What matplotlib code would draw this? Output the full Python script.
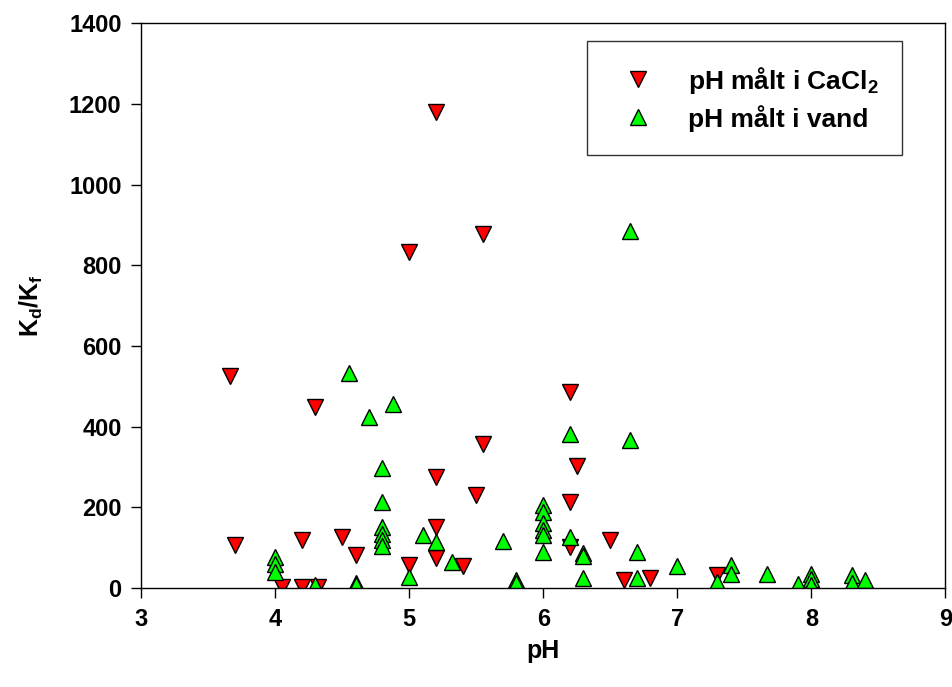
import matplotlib
matplotlib.use('Agg')
from matplotlib import pyplot as plt

plt.rcParams['font.family'] = ['Liberation Sans', 'DejaVu Sans']
plt.rcParams['font.weight'] = 'bold'
plt.rcParams['mathtext.fontset'] = 'custom'
plt.rcParams['mathtext.rm'] = 'Liberation Sans:bold'
plt.rcParams['mathtext.it'] = 'Liberation Sans:bold'
plt.rcParams['mathtext.bf'] = 'Liberation Sans:bold'

# pH measured in CaCl2
ph_cacl2 = [3.66, 3.70, 4.05, 4.20, 4.20, 4.30, 4.32, 4.50, 4.60, 5.00, 5.00, 5.20, 5.20, 5.20,
            5.20, 5.40, 5.50, 5.55, 5.55, 6.20, 6.20, 6.20, 6.25, 6.50, 6.60, 6.80, 7.30]
kd_cacl2 = [526, 106, 3, 119, 3, 448, 2, 126, 82, 832, 57, 1180, 276, 152,
            74, 55, 230, 877, 357, 486, 214, 102, 303, 119, 21, 26, 32]

# pH measured in water
ph_vand = [4.00, 4.00, 4.00, 4.30, 4.55, 4.60, 4.60, 4.70, 4.80, 4.80, 4.80, 4.80, 4.80, 4.80,
           4.88, 5.00, 5.10, 5.20, 5.32, 5.70, 5.80, 5.80, 6.00, 6.00, 6.00, 6.00, 6.00, 6.00,
           6.20, 6.20, 6.30, 6.30, 6.30, 6.65, 6.65, 6.70, 6.70, 7.00, 7.30, 7.40, 7.40, 7.67,
           7.90, 8.00, 8.00, 8.00, 8.30, 8.30, 8.40]
kd_vand = [78, 60, 40, 7, 534, 12, 8, 423, 298, 214, 152, 135, 119, 104,
           456, 28, 131, 115, 65, 117, 20, 13, 206, 189, 162, 145, 131, 90,
           383, 126, 86, 80, 24, 885, 367, 90, 24, 55, 15, 57, 36, 36,
           10, 36, 22, 8, 32, 12, 20]

fig = plt.figure(figsize=(9.53, 6.87), dpi=100)
ax = fig.add_axes([0.148, 0.144, 0.844, 0.822])

ax.plot(ph_cacl2, kd_cacl2, linestyle='none', marker='v', markersize=11,
        markerfacecolor='#ff0000', markeredgecolor='black', markeredgewidth=1,
        label='pH målt i CaCl$_2$')
ax.plot(ph_vand, kd_vand, linestyle='none', marker='^', markersize=11,
        markerfacecolor='#00ff00', markeredgecolor='black', markeredgewidth=1,
        label='pH målt i vand')

ax.set_xlim(3, 9)
ax.set_ylim(0, 1400)
ax.set_xticks(range(3, 10))
ax.set_yticks(range(0, 1401, 200))
ax.tick_params(direction='out', length=7, width=1, labelsize=17, pad=7)
for sp in ax.spines.values():
    sp.set_linewidth(1)

ax.set_xlabel('pH', fontsize=18, fontweight='bold', labelpad=6)
ax.set_ylabel('$K_d/K_f$', fontsize=18, fontweight='bold', labelpad=17)

leg = ax.legend(loc='upper left', bbox_to_anchor=(0.555, 0.969), fontsize=19,
                frameon=True, fancybox=False, borderpad=0.9, handletextpad=0.9,
                labelspacing=0.35, handlelength=2.0, borderaxespad=0)
leg.get_frame().set_edgecolor('black')
leg.get_frame().set_linewidth(1)

fig.savefig('out.png', dpi=100)
